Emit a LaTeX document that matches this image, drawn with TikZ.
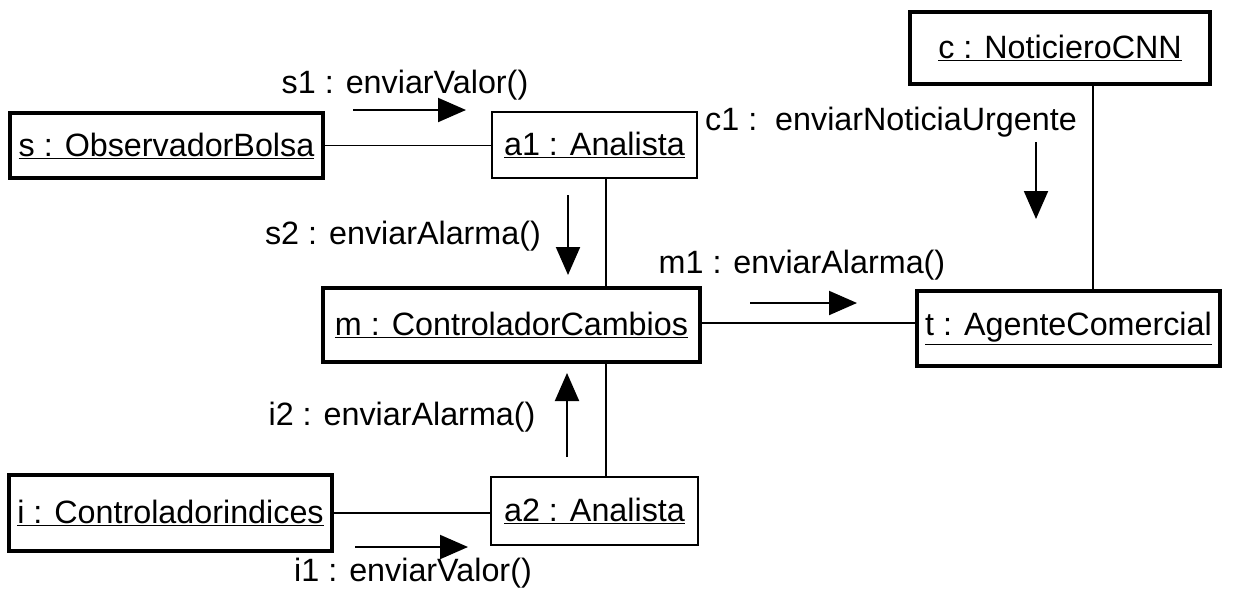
\documentclass[tikz,border=0pt]{standalone}
\usepackage{fontspec}
\setmainfont{Liberation Sans}
\usetikzlibrary{arrows.meta}
\begin{document}
\begin{tikzpicture}[x=1pt,y=-1pt,
  every node/.style={font=\fontsize{32.3}{38}\selectfont, inner sep=0pt},
  thickobj/.style={draw, line width=3.8pt},
  thinobj/.style={draw, line width=1.6pt},
  conn/.style={line width=1.6pt},
  msg/.style={line width=2pt, -{Triangle[length=28pt,width=24pt]}}]
\useasboundingbox (0,0) rectangle (1233,597);
% objects
\node[thickobj, minimum width=313pt, minimum height=65pt] (s) at (166.5,145.5) {\underline{s : ObservadorBolsa}};
\node[thinobj, minimum width=205pt, minimum height=66pt] (a1) at (594.5,145) {\underline{a1 : Analista}};
\node[thickobj, minimum width=300pt, minimum height=72pt] (c) at (1060,48) {\underline{c : NoticieroCNN}};
\node[thickobj, minimum width=377pt, minimum height=74pt] (m) at (511.5,325) {\underline{m : ControladorCambios}};
\node[thickobj, minimum width=303pt, minimum height=75pt] (t) at (1068.5,328.5) {\underline{t : AgenteComercial}};
\node[thickobj, minimum width=323pt, minimum height=76pt] (i) at (170.5,513) {\underline{i : Controladorindices}};
\node[thinobj, minimum width=207pt, minimum height=68pt] (a2) at (594.5,511) {\underline{a2 : Analista}};
% links
\draw[conn] (s.east) -- (s.east -| a1.west);
\draw[conn] ([xshift=11.5pt]a1.south) -- ([xshift=11.5pt]a1.south |- m.north);
\draw[conn] ([xshift=11.5pt]a2.north) -- ([xshift=11.5pt]a2.north |- m.south);
\draw[conn] ([yshift=2pt]m.east) -- ([yshift=2pt]m.east -| t.west);
\draw[conn] ([xshift=33pt]c.south) -- ([xshift=33pt]c.south |- t.north);
\draw[conn] (i.east) -- (i.east -| a2.west);
% messages
\node (ls1) at (405,85) {s1 : enviarValor()};
\coordinate (s1a) at (353,110); \coordinate (s1b) at (466,110);
\draw[msg] (s1a) -- (s1b);
\node (ls2) at (403,236) {s2 : enviarAlarma()};
\coordinate (s2a) at (568,195); \coordinate (s2b) at (568,275);
\draw[msg] (s2a) -- (s2b);
\node[anchor=west] (lc1) at (705,122) {c1 :\ \ enviarNoticiaUrgente};
\coordinate (c1a) at (1036,142); \coordinate (c1b) at (1036,219);
\draw[msg] (c1a) -- (c1b);
\node (lm1) at (802,265) {m1 : enviarAlarma()};
\coordinate (m1a) at (750,303); \coordinate (m1b) at (857,303);
\draw[msg] (m1a) -- (m1b);
\node (li2) at (402,417) {i2 : enviarAlarma()};
\coordinate (i2a) at (567,457); \coordinate (i2b) at (567,373);
\draw[msg] (i2a) -- (i2b);
\node (li1) at (413,573) {i1 : enviarValor()};
\coordinate (i1a) at (355,547); \coordinate (i1b) at (468,547);
\draw[msg] (i1a) -- (i1b);
\end{tikzpicture}
\end{document}
